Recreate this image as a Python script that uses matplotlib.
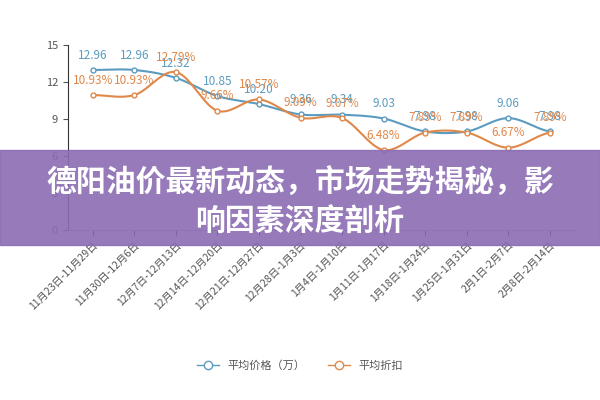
import matplotlib
matplotlib.use("Agg")
import matplotlib.pyplot as plt
import numpy as np
from matplotlib.patches import Rectangle

plt.rcParams['font.family'] = ['Noto Sans CJK SC', 'DejaVu Sans']

categories = ["11月23日-11月29日","11月30日-12月6日","12月7日-12月13日","12月14日-12月20日",
              "12月21日-12月27日","12月28日-1月3日","1月4日-1月10日","1月11日-1月17日",
              "1月18日-1月24日","1月25日-1月31日","2月1日-2月7日","2月8日-2月14日"]
price = [12.96,12.96,12.32,10.85,10.20,9.36,9.34,9.03,7.98,7.98,9.06,7.98]
discount = [10.93,10.93,12.79,9.66,10.57,9.09,9.07,6.48,7.89,7.89,6.67,7.89]

def smooth(y, n=20):
    y = np.asarray(y, float); x = np.arange(len(y))
    p = np.concatenate([[y[0]], y, [y[-1]]])
    xs, ys = [], []
    for i in range(len(y)-1):
        p0,p1,p2,p3 = p[i],p[i+1],p[i+2],p[i+3]
        t = np.linspace(0,1,n,endpoint=False)
        ys.append(0.5*((2*p1)+(-p0+p2)*t+(2*p0-5*p1+4*p2-p3)*t**2+(-p0+3*p1-3*p2+p3)*t**3))
        xs.append(x[i]+t)
    xs.append([x[-1]]); ys.append([y[-1]])
    return np.concatenate(xs), np.concatenate(ys)

blue, orange = '#5b9bbf', '#e0884a'
fig = plt.figure(figsize=(6,4), dpi=100)
ax = fig.add_axes([0.113, 0.425, 0.845, 0.463])
x = np.arange(len(categories))
for data, c, fmt in [(price, blue, '{:.2f}'), (discount, orange, '{:.2f}%')]:
    sx, sy = smooth(data)
    ax.plot(sx, sy, color=c, lw=1.5)
    ax.plot(x, data, 'o', ms=3.5, mfc='white', mec=c, mew=1)
    for xi, v in zip(x, data):
        ax.annotate(fmt.format(v), (xi, v), xytext=(0, 6), textcoords='offset points',
                    ha='center', va='bottom', fontsize=8.5, color=c)
ax.set_xlim(-0.6, len(categories)-0.4)
ax.set_ylim(0, 15)
ax.set_yticks([0,3,6,9,12,15])
ax.set_xticks(x)
ax.set_xticklabels(categories, rotation=45, ha='right', rotation_mode='anchor', fontsize=7.5, color='#555555')
ax.tick_params(axis='y', labelsize=8, colors='#555555')
for s in ['top','right']:
    ax.spines[s].set_visible(False)
ax.spines['left'].set_color('#333333')
ax.spines['bottom'].set_color('#aaaaaa')

from matplotlib.lines import Line2D
h = [Line2D([], [], color=blue, marker='o', mfc='white', ms=6, lw=1),
     Line2D([], [], color=orange, marker='o', mfc='white', ms=6, lw=1)]
fig.legend(h, ['平均价格（万）', '平均折扣'], loc='center', bbox_to_anchor=(0.5, 0.085),
           ncol=2, frameon=False, fontsize=8, labelcolor='#555555', handlelength=2)

fig.patches.append(Rectangle((0, 0.387), 1, 0.238, transform=fig.transFigure,
                             color='#8b6cb3', alpha=0.9, zorder=5))
fig.text(0.5, 0.542, '德阳油价最新动态，市场走势揭秘，影', ha='center', va='center',
         fontsize=21.5, color='white', fontweight='bold', zorder=6)
fig.text(0.5, 0.445, '响因素深度剖析', ha='center', va='center',
         fontsize=21.5, color='white', fontweight='bold', zorder=6)
fig.savefig('out.png', dpi=100, facecolor='white')
